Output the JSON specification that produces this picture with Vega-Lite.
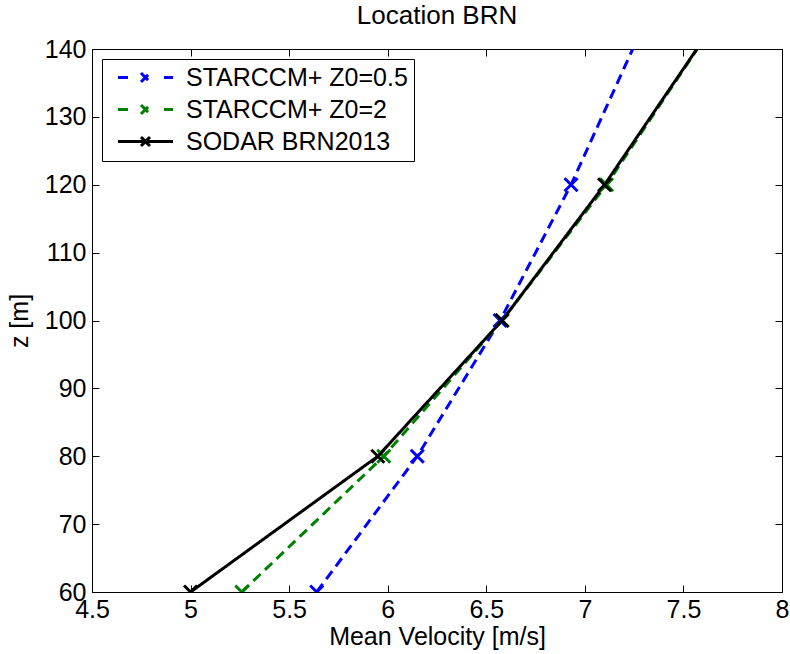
{
  "$schema": "https://vega.github.io/schema/vega-lite/v6.json",
  "width": 690,
  "height": 543,
  "autosize": {"type": "none"},
  "padding": {"left": 92, "top": 49, "right": 8, "bottom": 62},
  "background": "white",
  "config": {
    "font": "Liberation Sans",
    "view": {"stroke": "black", "strokeWidth": 1},
    "axis": {
      "labelFontSize": 25,
      "titleFontSize": 25,
      "titleFontWeight": "normal",
      "labelColor": "black",
      "titleColor": "black",
      "tickColor": "black",
      "tickSize": -7,
      "domain": false,
      "grid": false,
      "labelFlush": false,
      "labelFont": "Liberation Sans",
      "titleFont": "Liberation Sans"
    },
    "legend": {
      "labelFont": "Liberation Sans"
    }
  },
  "title": {"text": "Location BRN", "fontSize": 26, "fontWeight": "normal", "font": "Liberation Sans", "color": "black", "offset": 8},
  "data": {
    "values": [
      {"series": "STARCCM+ Z0=0.5", "v": 5.64, "z": 60},
      {"series": "STARCCM+ Z0=0.5", "v": 6.15, "z": 80},
      {"series": "STARCCM+ Z0=0.5", "v": 6.57, "z": 100},
      {"series": "STARCCM+ Z0=0.5", "v": 6.93, "z": 120},
      {"series": "STARCCM+ Z0=0.5", "v": 7.556, "z": 160},
      {"series": "STARCCM+ Z0=2", "v": 5.26, "z": 60},
      {"series": "STARCCM+ Z0=2", "v": 5.98, "z": 80},
      {"series": "STARCCM+ Z0=2", "v": 6.58, "z": 100},
      {"series": "STARCCM+ Z0=2", "v": 7.11, "z": 120},
      {"series": "STARCCM+ Z0=2", "v": 8.03, "z": 160},
      {"series": "SODAR BRN2013", "v": 5.0, "z": 60},
      {"series": "SODAR BRN2013", "v": 5.95, "z": 80},
      {"series": "SODAR BRN2013", "v": 6.58, "z": 100},
      {"series": "SODAR BRN2013", "v": 7.10, "z": 120},
      {"series": "SODAR BRN2013", "v": 8.036, "z": 160}
    ]
  },
  "layer": [
    {
      "mark": {"type": "line", "strokeWidth": 3, "clip": true},
      "encoding": {
        "x": {"field": "v", "type": "quantitative", "scale": {"domain": [4.5, 8], "nice": false, "zero": false},
              "axis": {"title": "Mean Velocity [m/s]", "values": [4.5, 5, 5.5, 6, 6.5, 7, 7.5, 8], "format": "~g", "labelPadding": 12, "titlePadding": 2, "labelFlush": false, "labelOverlap": false}},
        "y": {"field": "z", "type": "quantitative", "scale": {"domain": [60, 140], "nice": false, "zero": false},
              "axis": {"title": "z [m]", "values": [60, 70, 80, 90, 100, 110, 120, 130, 140], "labelPadding": 13, "titlePadding": 12, "labelFlush": false, "labelOverlap": false}},
        "color": {"field": "series", "type": "nominal",
                  "scale": {"domain": ["STARCCM+ Z0=0.5", "STARCCM+ Z0=2", "SODAR BRN2013"], "range": ["#0000ff", "#008000", "#000000"]},
                  "legend": {
                    "title": null,
                    "orient": "top-left",
                    "offset": 10,
                    "padding": 6,
                    "strokeColor": "black",
                    "fillColor": "white",
                    "labelFontSize": 25,
                    "labelColor": "black",
                    "labelLimit": 400,
                    "labelOffset": 53,
                    "symbolSize": 100,
                    "symbolStrokeWidth": 3,
                    "rowPadding": 6,
                    "encode": {
                      "symbols": {
                        "update": {
                          "shape": {"signal": "datum.value == 'SODAR BRN2013' ? 'M-0.5,0L10.5,0M4.1,-0.9L5.9,0.9M4.1,0.9L5.9,-0.9' : 'M-0.5,0L1.7,0M8.7,0L10.5,0M4.1,-0.9L5.9,0.9M4.1,0.9L5.9,-0.9'"},
                          "strokeDash": {"value": [1, 0]},
                          "fill": {"value": "transparent"},
                          "fillOpacity": {"value": 0},
                          "strokeWidth": {"value": 3}
                        }
                      }
                    }
                  }},
        "strokeDash": {"field": "series", "type": "nominal",
                       "scale": {"domain": ["STARCCM+ Z0=0.5", "STARCCM+ Z0=2", "SODAR BRN2013"], "range": [[10, 6], [10, 6], [1, 0]]},
                       "legend": null},
        "order": {"field": "z", "type": "quantitative"}
      }
    },
    {
      "mark": {"type": "point", "shape": "M-1,-1L1,1M-1,1L1,-1", "size": 170, "strokeWidth": 3, "filled": false, "clip": true, "opacity": 1},
      "encoding": {
        "x": {"field": "v", "type": "quantitative", "axis": null},
        "y": {"field": "z", "type": "quantitative", "axis": null},
        "color": {"field": "series", "type": "nominal", "legend": null}
      }
    },
    {
      "mark": {"type": "point", "opacity": 0, "clip": true},
      "encoding": {
        "x": {"field": "v", "type": "quantitative", "axis": {"orient": "top", "title": null, "labels": false, "values": [4.5, 5, 5.5, 6, 6.5, 7, 7.5, 8]}},
        "y": {"field": "z", "type": "quantitative", "axis": {"orient": "right", "title": null, "labels": false, "values": [60, 70, 80, 90, 100, 110, 120, 130, 140]}}
      }
    }
  ],
  "resolve": {"axis": {"x": "independent", "y": "independent"}}
}
